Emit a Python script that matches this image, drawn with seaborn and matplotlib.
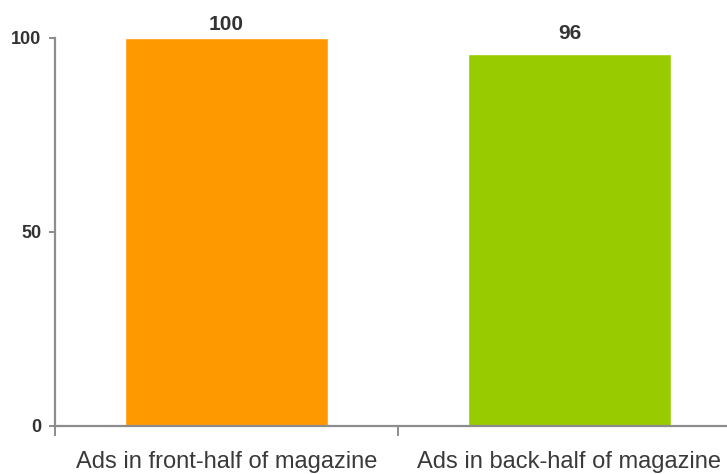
import matplotlib
matplotlib.use("Agg")
import matplotlib.pyplot as plt
import seaborn as sns
import pandas as pd

categories = ["Ads in front-half of magazine", "Ads in back-half of magazine"]
values = [100, 96]
colors = ["#FF9900", "#99CC00"]
y_ticks = [0, 50, 100]

sns.set_theme(style="white")
plt.rcParams["font.family"] = ["Liberation Sans", "DejaVu Sans"]

df = pd.DataFrame({"category": categories, "value": values})

W, H = 727, 474
fig = plt.figure(figsize=(W / 100, H / 100), dpi=100)
ax = fig.add_axes([55 / W, 1 - 426 / H, 686 / W, 388 / H])

sns.barplot(data=df, x="category", y="value", hue="category",
            palette=colors, width=0.59, saturation=1, legend=False, ax=ax)

ax.set_xlim(-0.5, 1.5)
ax.set_ylim(0, 100)
ax.set_xlabel("")
ax.set_ylabel("")

axis_grey = "#8C8C8C"
text_grey = "#333333"

for side in ("top", "right"):
    ax.spines[side].set_visible(False)
for side in ("left", "bottom"):
    ax.spines[side].set_color(axis_grey)
    ax.spines[side].set_linewidth(1.6)

ax.set_yticks(y_ticks)
ax.set_yticklabels([str(t) for t in y_ticks], fontsize=13,
                   fontweight="bold", color=text_grey)
ax.tick_params(axis="y", direction="out", length=4, width=1.4,
               color=axis_grey, pad=6, left=True)

ax.set_xticks(range(len(categories)))
ax.set_xticklabels(categories, fontsize=17, color="#3A3A3A")
ax.tick_params(axis="x", which="major", length=0, pad=18)
ax.set_xticks([-0.5, 0.5, 1.5], minor=True)
ax.tick_params(axis="x", which="minor", direction="out", length=7,
               width=1.4, color=axis_grey, bottom=True)

# value labels sit above their bars, but their baseline stays 30 px below the top edge
fig.canvas.draw()
for i, v in enumerate(values):
    _, top_px = ax.transData.transform((i, v))
    y_px = min(top_px + 15, H - 30)
    xd = ax.transData.transform((i, 0))[0]
    fig.text(xd / W, y_px / H, str(v), ha="center", va="baseline",
             fontsize=15, fontweight="bold", color=text_grey)

fig.savefig("out.png", dpi=100)
